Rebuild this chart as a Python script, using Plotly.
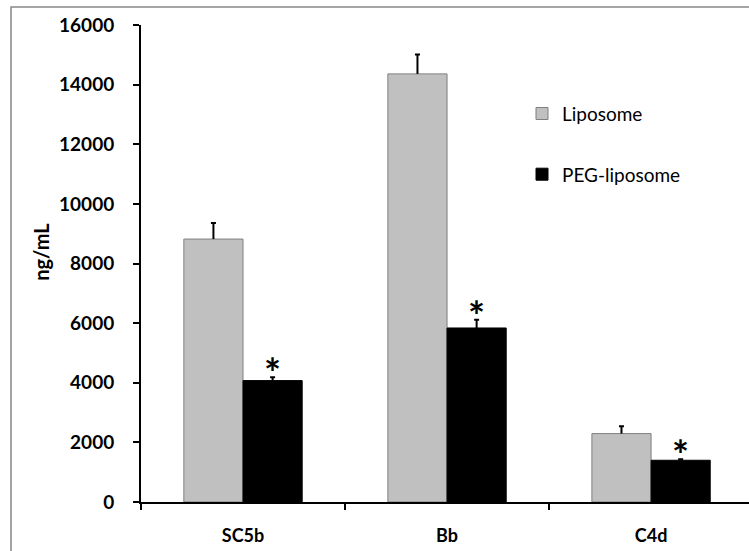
import plotly.graph_objects as go

categories = ["SC5b", "Bb", "C4d"]
liposome = [8820, 14360, 2295]
liposome_err = [540, 650, 245]
peg_liposome = [4072, 5837, 1400]
peg_err = [110, 280, 30]
y_ticks = [0, 2000, 4000, 6000, 8000, 10000, 12000, 14000, 16000]
y_tick_labels = ["0", "2000", "4000", "6000", "8000", "10000", "12000", "14000", "16000"]
sig_marks = ["*", "*", "*"]

FONT = "Lato"
GREY = "#C0C0C0"

fig = go.Figure()


def add_series(name, values, errors, color, line_color, group):
    # bar with error stem (plus direction only, no caps)
    fig.add_trace(go.Bar(
        x=categories, y=values, name=name, offsetgroup=group, legendgroup=group,
        marker=dict(color=color, line=dict(color=line_color, width=1)),
        error_y=dict(type="data", array=errors, arrayminus=[0] * len(errors),
                     symmetric=False, color="black", thickness=2, width=0),
    ))
    # invisible bar reaching the error top, whose zero-length error bar draws the cap
    tops = [v + e for v, e in zip(values, errors)]
    fig.add_trace(go.Bar(
        x=categories, y=tops, name=name, offsetgroup=group, legendgroup=group,
        marker=dict(color="rgba(0,0,0,0)", line=dict(width=0)),
        error_y=dict(type="data", array=[0] * len(errors), arrayminus=[0] * len(errors),
                     symmetric=False, color="black", thickness=2, width=2.5),
        showlegend=False, hoverinfo="skip",
    ))


add_series("Liposome", liposome, liposome_err, GREY, "#7F7F7F", "lip")
add_series("PEG-liposome", peg_liposome, peg_err, "#000000", "#000000", "peg")

for c, v, e, s in zip(categories, peg_liposome, peg_err, sig_marks):
    fig.add_annotation(x=c, y=v + e, text=s, showarrow=False, xref="x", yref="y",
                       xshift=29.5, yanchor="bottom", yshift=-22,
                       font=dict(family=FONT, size=40, color="black", weight="bold"))

fig.add_annotation(x=(41 - 141) / 608, y=(502.5 - 252) / 477.5, xref="paper", yref="paper",
                   text="ng/mL", textangle=-90, showarrow=False,
                   xanchor="center", yanchor="middle",
                   font=dict(family=FONT, size=20, color="black", weight="bold"))

fig.add_shape(type="rect", xref="paper", yref="paper",
              x0=(11 - 141) / 608, x1=1.1, y0=-0.3, y1=(502.5 - 7) / 477.5,
              line=dict(color="#888888", width=1.5), layer="below")

fig.update_layout(
    width=749, height=551,
    margin=dict(l=141, r=0, t=25, b=48.5, pad=0),
    paper_bgcolor="white", plot_bgcolor="white",
    barmode="group", bargap=0.42, bargroupgap=0,
    showlegend=True,
    legend=dict(x=(522 - 141) / 608, y=0.854, xanchor="left", yanchor="top",
                font=dict(family=FONT, size=19, color="black"),
                tracegroupgap=33, bgcolor="rgba(0,0,0,0)"),
    xaxis=dict(range=[-0.5, 2.48], showline=True, linecolor="black", linewidth=2,
               ticks="outside", tickson="boundaries", ticklen=6, tickwidth=2,
               tickcolor="black", showgrid=False, ticklabelstandoff=16,
               tickfont=dict(family=FONT, size=18, color="black", weight="bold")),
    yaxis=dict(range=[0, 16000], tickvals=y_ticks, ticktext=y_tick_labels, showline=True,
               linecolor="black", linewidth=2, ticks="outside", ticklen=6, tickwidth=2,
               tickcolor="black", showgrid=False, zeroline=False, ticklabelstandoff=15,
               tickfont=dict(family=FONT, size=19, color="black", weight="bold")),
)

fig.write_html("out.html")
